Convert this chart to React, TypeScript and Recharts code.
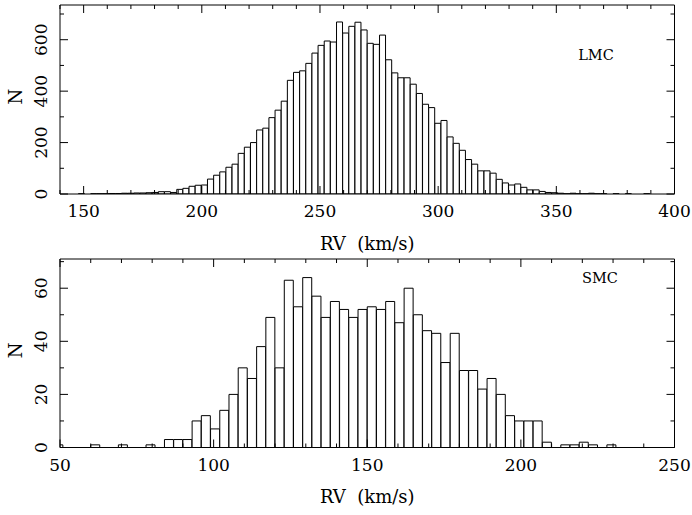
import React from 'react';
import { BarChart, Bar, XAxis, YAxis, Label } from 'recharts';

// ---- LMC histogram: 100 bins of 2.6 km/s from 140 to 400 ----
const LMC_BIN_START = 140;
const LMC_BIN_WIDTH = 2.6;
const lmcCounts = [
  0, 0, 0, 1, 0, 1, 1, 1, 2, 2,
  3, 3, 4, 4, 5, 6, 9, 9, 6, 18,
  22, 30, 34, 35, 58, 73, 86, 104, 116, 158,
  182, 200, 249, 256, 297, 326, 361, 442, 473, 479,
  508, 548, 578, 595, 591, 669, 626, 652, 668, 638,
  586, 582, 618, 522, 471, 452, 452, 427, 391, 349,
  336, 275, 286, 222, 197, 170, 134, 116, 90, 90,
  81, 57, 43, 35, 39, 26, 16, 16, 10, 6,
  5, 3, 1, 3, 1, 1, 3, 1, 1, 0,
  1, 0, 1, 0, 0, 1, 0, 0, 0, 0,
];
const lmcTicks = [140, 150, 160, 170, 180, 190, 200, 210, 220, 230, 240, 250, 260, 270, 280, 290, 300, 310, 320, 330, 340, 350, 360, 370, 380, 390, 400];
const lmcYTicks = [0, 100, 200, 300, 400, 500, 600, 700];

// ---- SMC histogram: bins of 3 km/s starting at 48 ----
const SMC_BIN_START = 48;
const SMC_BIN_WIDTH = 3;
const smcCounts = [
  1, 0, 0, 0, 1, 0, 0, 1, 0, 0,
  1, 0, 3, 3, 3, 10, 12, 7, 14, 20,
  30, 26, 38, 49, 30, 63, 53, 64, 57, 49,
  55, 52, 49, 52, 53, 52, 55, 47, 60, 50,
  44, 43, 32, 43, 29, 29, 22, 26, 20, 12,
  10, 10, 10, 2, 0, 1, 1, 2, 1, 0,
  1, 0, 0, 0, 0, 0, 0,
];
const smcTicks = [50, 60, 70, 80, 90, 100, 110, 120, 130, 140, 150, 160, 170, 180, 190, 200, 210, 220, 230, 240, 250];
const smcYTicks = [0, 10, 20, 30, 40, 50, 60, 70];

const lmcData = lmcCounts.map((n, i) => ({ rv: LMC_BIN_START + LMC_BIN_WIDTH * (i + 0.5), n }));
const smcData = smcCounts.map((n, i) => ({ rv: SMC_BIN_START + SMC_BIN_WIDTH * (i + 0.5), n }));

const FONT = '"DejaVu Serif", "Liberation Serif", serif';

const XTick = (props: any) => {
  const { x, y, payload, orient, majorStep } = props;
  const v = payload.value;
  const isMajor = v % majorStep === 0;
  const len = isMajor ? 8 : 4;
  const dir = orient === 'bottom' ? -1 : 1;
  return (
    <g>
      <line x1={x} x2={x} y1={y} y2={y + dir * len} stroke="#000" strokeWidth={1} />
      {orient === 'bottom' && isMajor && (
        <text x={x} y={y + 17} textAnchor="middle" dominantBaseline="central" fontFamily={FONT} fontSize={17} fill="#000">
          {v}
        </text>
      )}
    </g>
  );
};

const YTick = (props: any) => {
  const { x, y, payload, orient, majorStep } = props;
  const v = payload.value;
  const isMajor = v % majorStep === 0;
  const len = isMajor ? 8 : 4;
  const dir = orient === 'left' ? 1 : -1;
  const tx = x - 19;
  return (
    <g>
      <line x1={x} x2={x + dir * len} y1={y} y2={y} stroke="#000" strokeWidth={1} />
      {orient === 'left' && isMajor && (
        <text x={tx} y={y} transform={`rotate(-90 ${tx} ${y})`} textAnchor="middle" dominantBaseline="central" fontFamily={FONT} fontSize={17} fill="#000">
          {v}
        </text>
      )}
    </g>
  );
};

const XLabel = (props: any) => {
  const vb = props.viewBox;
  return (
    <text x={vb.x + vb.width / 2} y={vb.y + 49} textAnchor="middle" dominantBaseline="central" fontFamily={FONT} fontSize={18} fill="#000" style={{ whiteSpace: 'pre' }}>
      {'RV  (km/s)'}
    </text>
  );
};

const YLabel = (props: any) => {
  const vb = props.viewBox;
  const cx = vb.x + 15;
  const cy = vb.y + vb.height / 2 - 3;
  return (
    <text x={cx} y={cy} transform={`rotate(-90 ${cx} ${cy})`} textAnchor="middle" dominantBaseline="central" fontFamily={FONT} fontSize={18} fill="#000">
      N
    </text>
  );
};

type PanelProps = {
  data: { rv: number; n: number }[];
  xDomain: [number, number];
  yDomain: [number, number];
  xTicks: number[];
  yTicks: number[];
  xMajor: number;
  yMajor: number;
  height: number;
  top: number;
  bottomH: number;
};

const Panel = ({ data, xDomain, yDomain, xTicks, yTicks, xMajor, yMajor, height, top, bottomH }: PanelProps) => (
  <BarChart
    width={692}
    height={height}
    data={data}
    margin={{ top: top - 1, right: 16.5, bottom: 0, left: 0 }}
    barCategoryGap={0}
    barGap={0}
  >
    <XAxis
      dataKey="rv"
      type="number"
      domain={xDomain}
      allowDataOverflow
      ticks={xTicks}
      interval={0}
      height={bottomH}
      tickSize={0}
      tickMargin={0}
      tickLine={false}
      axisLine={{ stroke: '#000', strokeWidth: 1 }}
      tick={(p: any) => <XTick {...p} orient="bottom" majorStep={xMajor} />}
      label={<Label content={<XLabel />} />}
    />
    <XAxis
      xAxisId="top"
      orientation="top"
      dataKey="rv"
      type="number"
      domain={xDomain}
      allowDataOverflow
      ticks={xTicks}
      interval={0}
      height={1}
      tickSize={0}
      tickMargin={0}
      tickLine={false}
      axisLine={{ stroke: '#000', strokeWidth: 1 }}
      tick={(p: any) => <XTick {...p} orient="top" majorStep={xMajor} />}
    />
    <YAxis
      type="number"
      domain={yDomain}
      allowDataOverflow
      ticks={yTicks}
      interval={0}
      width={60}
      tickSize={0}
      tickMargin={0}
      tickLine={false}
      axisLine={{ stroke: '#000', strokeWidth: 1 }}
      tick={(p: any) => <YTick {...p} orient="left" majorStep={yMajor} />}
      label={<Label content={<YLabel />} />}
    />
    <YAxis
      yAxisId="right"
      orientation="right"
      type="number"
      domain={yDomain}
      allowDataOverflow
      ticks={yTicks}
      interval={0}
      width={1}
      tickSize={0}
      tickMargin={0}
      tickLine={false}
      axisLine={{ stroke: '#000', strokeWidth: 1 }}
      tick={(p: any) => <YTick {...p} orient="right" majorStep={yMajor} />}
    />
    <Bar dataKey="n" fill="#fff" stroke="#000" strokeWidth={1} isAnimationActive={false} />
  </BarChart>
);

const tagStyle: React.CSSProperties = {
  position: 'absolute',
  fontFamily: FONT,
  fontSize: 14.5,
  color: '#000',
  lineHeight: 1,
  transform: 'translate(-50%, -50%)',
  whiteSpace: 'nowrap',
};

export default function App() {
  return (
    <div style={{ position: 'absolute', left: 0, top: 0, width: 692, height: 515, background: '#fff', overflow: 'hidden' }}>
      <div style={{ position: 'absolute', left: 0, top: 0 }}>
        <Panel
          data={lmcData}
          xDomain={[140, 400]}
          yDomain={[0, 735]}
          xTicks={lmcTicks}
          yTicks={lmcYTicks}
          xMajor={50}
          yMajor={200}
          height={257}
          top={5}
          bottomH={63}
        />
      </div>
      <div style={{ position: 'absolute', left: 0, top: 257 }}>
        <Panel
          data={smcData}
          xDomain={[50, 250]}
          yDomain={[0, 71]}
          xTicks={smcTicks}
          yTicks={smcYTicks}
          xMajor={50}
          yMajor={20}
          height={258}
          top={2}
          bottomH={67.5}
        />
      </div>
      <div style={{ ...tagStyle, left: 596, top: 55 }}>LMC</div>
      <div style={{ ...tagStyle, left: 600, top: 278 }}>SMC</div>
    </div>
  );
}
